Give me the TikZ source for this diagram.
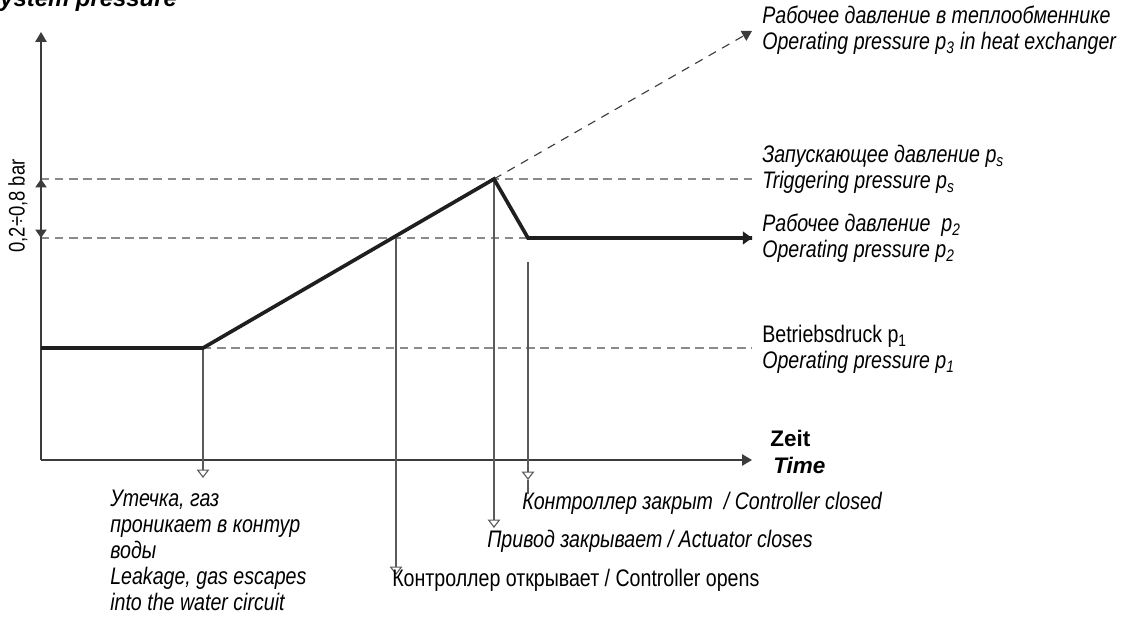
\documentclass[tikz,border=0pt]{standalone}
\usepackage{fontspec}
\setmainfont[FakeStretch=0.82]{Liberation Sans}
\newfontfamily\widefont{Liberation Sans}
\usetikzlibrary{arrows.meta}
\definecolor{axisgray}{HTML}{3C3C3C}
\definecolor{dashgray}{HTML}{8A8A8A}
\definecolor{eventgray}{HTML}{5A5A5A}
\begin{document}
\begin{tikzpicture}[x=0.025cm, y=-0.025cm,
  axis/.style = {draw=axisgray, line width=1pt, -{Triangle[length=7pt,width=8pt]}},
  dim/.style = {draw=axisgray, line width=1pt, {Triangle[length=6pt,width=8pt]}-{Triangle[length=6pt,width=8pt]}},
  level/.style = {draw=dashgray, line width=0.9pt, dash pattern=on 6pt off 4pt},
  curve/.style = {draw=black!88, line width=2.6pt},
  event/.style = {draw=eventgray, line width=0.8pt, -{Triangle[open,length=6pt,width=9pt]}},
  lbl/.style = {anchor=base west, inner sep=0pt, align=left, font=\fontsize{17}{18.5}\selectfont\itshape}]
  \useasboundingbox (0,0) rectangle (1133,628);
  \coordinate (O) at (41,460);
  \coordinate (ytop) at (41,32);
  \coordinate (xend) at (752,460);
  \coordinate (ps0) at (41,179);
  \coordinate (p20) at (41,238);
  \coordinate (p1start) at (41,348);
  \coordinate (leak) at (203,348);
  \coordinate (open) at (396,238);
  \coordinate (trig) at (494,179);
  \coordinate (drop) at (528,238);
  \coordinate (p2end) at (752,238);
  \coordinate (p3end) at (752,31);
  \coordinate (psend) at (752,179);
  \coordinate (p1end) at (752,348);
  \coordinate (leaktip) at (203,478);
  \coordinate (opentip) at (396,575);
  \coordinate (trigtip) at (494,528);
  \coordinate (closetop) at (528,262);
  \coordinate (closetip) at (528,480);
  \coordinate (closeend) at (528,494);
  \draw[level] (ps0) -- (psend);
  \draw[level] (p20) -- (drop);
  \draw[level] (leak) -- (p1end);
  \draw[draw=axisgray, line width=0.8pt, dash pattern=on 6pt off 5pt, -{Triangle[length=7pt,width=8pt]}] (trig) -- (p3end);
  \draw[axis] (O) -- (ytop);
  \draw[axis] (O) -- (xend);
  \draw[dim] (ps0) -- (p20);
  \draw[event] (leak) -- (leaktip);
  \draw[event] (open) -- (opentip);
  \draw[event] (trig) -- (trigtip);
  \draw[event] (closetop) -- (closetip);
  \draw[draw=eventgray, line width=0.8pt] (closetip) -- (closeend);
  \draw[curve, line join=miter] (p1start) -- (leak) -- (trig) -- (drop) -- (p2end);
  \draw[curve, -{Triangle[length=6.5pt,width=9pt]}] (740,238) -- (p2end);
  \node[rotate=90, inner sep=0pt, font=\fontsize{16}{18}\selectfont] (range) at (18,206) {0,2÷0,8 bar};
  \node[anchor=base west, inner sep=0pt, font=\widefont\bfseries\itshape\fontsize{17}{18}\selectfont] (title) at (-16,7) {System pressure};
  \node[anchor=base west, inner sep=0pt, font=\widefont\bfseries\fontsize{16}{18}\selectfont] (zeit) at (770,447) {Zeit};
  \node[anchor=base west, inner sep=0pt, font=\widefont\bfseries\itshape\fontsize{16}{18}\selectfont] (time) at (773,474) {Time};
  \node[lbl] (p3lbl) at (762,50) {Рабочее давление в теплообменнике\\Operating pressure p\textsubscript{3} in heat exchanger};
  \node[lbl] (pslbl) at (762,189) {Запускающее давление p\textsubscript{s}\\Triggering pressure p\textsubscript{s}};
  \node[lbl] (p2lbl) at (762,258) {Рабочее давление\ \ p\textsubscript{2}\\Operating pressure p\textsubscript{2}};
  \node[lbl] (p1lbl) at (762,369) {{\upshape Betriebsdruck p\textsubscript{1}}\\Operating pressure p\textsubscript{1}};
  \node[lbl] (leaklbl) at (110,611) {Утечка, газ\\проникает в контур\\воды\\Leakage, gas escapes\\into the water circuit};
  \node[lbl] (closedlbl) at (522,510) {Контроллер закрыт\ \ / Controller closed};
  \node[lbl] (actlbl) at (487,548) {Привод закрывает / Actuator closes};
  \node[lbl, font=\fontsize{17}{18.5}\selectfont\upshape] (openlbl) at (392,587) {Контроллер открывает / Controller opens};
\end{tikzpicture}
\end{document}
